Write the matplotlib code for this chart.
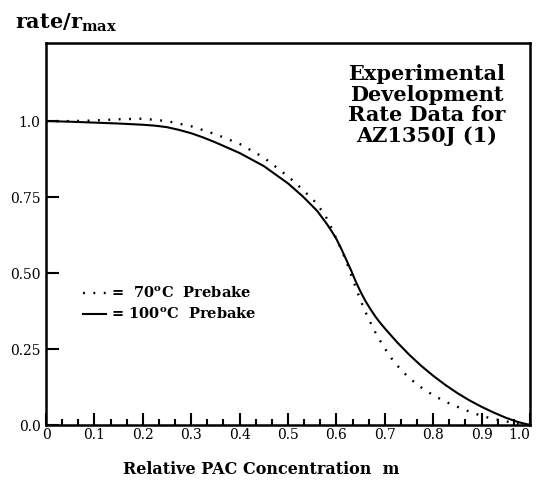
import matplotlib
matplotlib.use("Agg")
import matplotlib.pyplot as plt
from matplotlib.lines import Line2D
from matplotlib.ticker import MultipleLocator

plt.rcParams["font.family"] = "DejaVu Serif"
plt.rcParams["mathtext.fontset"] = "dejavuserif"

# 100 C prebake (solid)
m_100 = [0.0, 0.05, 0.10, 0.15, 0.20, 0.225, 0.25, 0.275, 0.30, 0.325, 0.35,
         0.40, 0.45, 0.50, 0.53, 0.56, 0.58, 0.59, 0.60, 0.61, 0.62, 0.63,
         0.64, 0.65, 0.66, 0.67, 0.68, 0.69, 0.70, 0.725, 0.75, 0.775, 0.80,
         0.825, 0.85, 0.875, 0.90, 0.925, 0.95, 0.975, 1.0]
r_100 = [1.0, 0.998, 0.995, 0.992, 0.988, 0.985, 0.98, 0.971, 0.96, 0.946, 0.93,
         0.895, 0.852, 0.795, 0.753, 0.705, 0.662, 0.638, 0.612, 0.58, 0.545, 0.51,
         0.472, 0.438, 0.408, 0.382, 0.358, 0.337, 0.318, 0.273, 0.232, 0.195, 0.162,
         0.132, 0.105, 0.081, 0.06, 0.041, 0.024, 0.01, 0.0]

# 70 C prebake (dotted)
m_70 = [0.0, 0.05, 0.10, 0.15, 0.20, 0.25, 0.30, 0.35, 0.40, 0.45, 0.50,
        0.53, 0.56, 0.58, 0.59, 0.60, 0.61, 0.62, 0.63, 0.64, 0.65, 0.66,
        0.67, 0.68, 0.69, 0.70, 0.72, 0.75, 0.775, 0.80, 0.825, 0.85,
        0.875, 0.90, 0.925, 0.95, 0.975, 1.0]
r_70 = [1.0, 1.0, 1.002, 1.006, 1.008, 1.0, 0.983, 0.957, 0.925, 0.88, 0.818,
        0.775, 0.728, 0.68, 0.648, 0.612, 0.578, 0.54, 0.495, 0.452, 0.41, 0.372,
        0.338, 0.306, 0.278, 0.252, 0.205, 0.155, 0.124, 0.098, 0.077, 0.06,
        0.044, 0.03, 0.02, 0.012, 0.005, 0.0]

x_ticks = [0, 0.1, 0.2, 0.3, 0.4, 0.5, 0.6, 0.7, 0.8, 0.9, 1.0]
x_labels = ["0", "0.1", "0.2", "0.3", "0.4", "0.5", "0.6", "0.7", "0.8", "0.9", "1.0"]
y_ticks = [0, 0.25, 0.5, 0.75, 1.0]
y_labels = ["0.0", "0.25", "0.50", "0.75", "1.0"]

DOT = (0, (0.8, 3.6))

fig = plt.figure(figsize=(5.37, 4.83), dpi=100)
ax = fig.add_axes([0.0857, 0.120, 0.9013, 0.791])

ax.plot(m_70, r_70, color="black", linewidth=1.7, linestyle=DOT)
ax.plot(m_100, r_100, color="black", linewidth=1.5)

ax.set_xlim(0, 1.0)
ax.set_ylim(0, 1.257)
ax.set_xticks(x_ticks)
ax.set_xticklabels(x_labels, fontsize=10)
ax.xaxis.set_minor_locator(MultipleLocator(1 / 30))
ax.set_yticks(y_ticks)
ax.set_yticklabels(y_labels, fontsize=10)
ax.tick_params(axis="both", which="major", direction="in", length=9, width=1.5)
ax.tick_params(axis="x", which="minor", direction="in", length=4, width=1.5)
ax.tick_params(axis="x", which="major", pad=2)
ax.tick_params(axis="y", which="major", pad=4)
for lbl in ax.get_xticklabels()[-1:]:
    lbl.set_horizontalalignment("right")
for s in ax.spines.values():
    s.set_linewidth(1.8)

ax.set_xlabel("Relative PAC Concentration  m", fontsize=11.5, fontweight="bold")
ax.xaxis.set_label_coords(0.445, -0.094)

fig.text(15 / 537, 1 - 29 / 483, r"$\mathbf{rate/r_{max}}$", fontsize=15,
         ha="left", va="baseline")

ax.text(0.787, 1.053, "Experimental\nDevelopment\nRate Data for\nAZ1350J (1)",
        ha="center", va="center", fontsize=15, fontweight="bold",
        linespacing=1.03)

handles = [
    Line2D([], [], color="black", linewidth=1.7, linestyle=DOT),
    Line2D([], [], color="black", linewidth=1.5),
]
labels = [r"=  70$^{\mathbf{o}}$C  Prebake", r"= 100$^{\mathbf{o}}$C  Prebake"]
leg = ax.legend(handles, labels, loc="center left", bbox_to_anchor=(0.076, 0.317),
                frameon=False, handlelength=1.6, handletextpad=0.3,
                labelspacing=0.35, borderpad=0, borderaxespad=0,
                prop={"size": 10.5, "weight": "bold"})

fig.savefig("out.png", dpi=100)
